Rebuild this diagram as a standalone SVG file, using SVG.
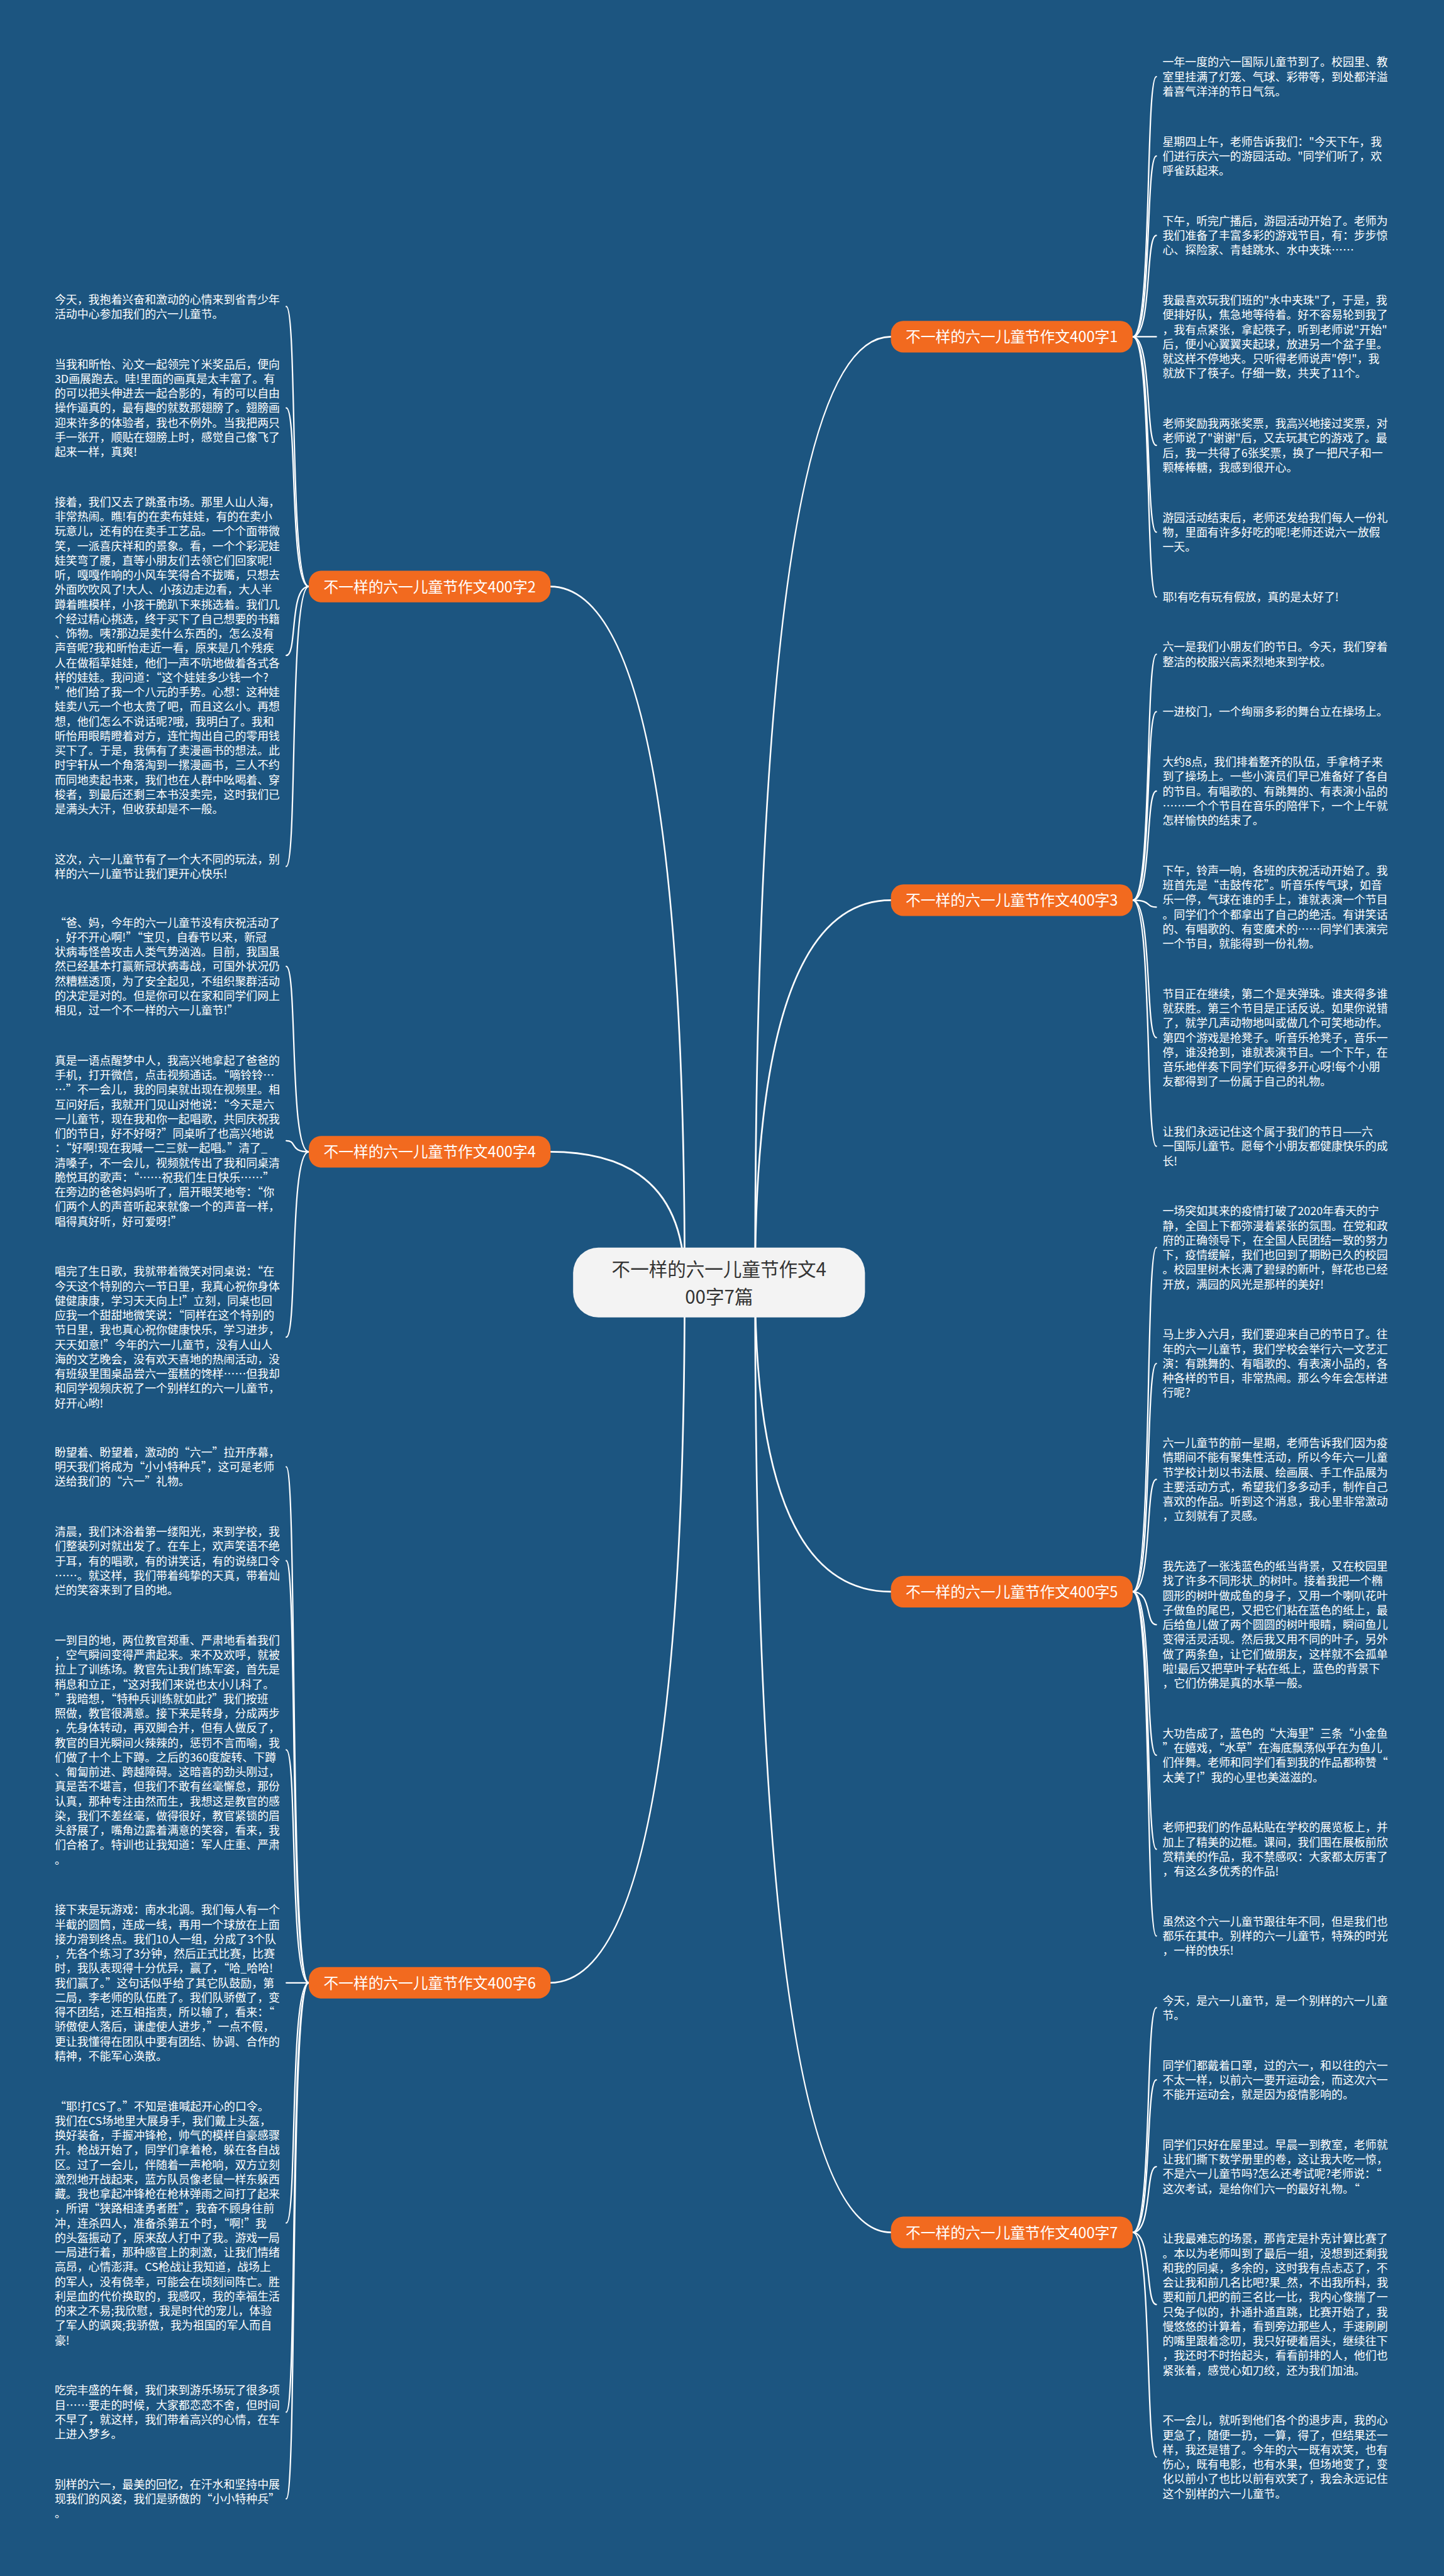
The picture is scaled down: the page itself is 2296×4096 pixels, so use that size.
<svg xmlns="http://www.w3.org/2000/svg" width="2296" height="4096" viewBox="0 0 2296 4096">
<style>
.t{font-family:"Noto Sans CJK SC","Noto Sans",sans-serif;font-size:20px;fill:#ffffff}
.bt{font-family:"Noto Sans CJK SC","Noto Sans",sans-serif;font-size:26.5px;fill:#ffffff;text-anchor:middle}
.ct{font-family:"Noto Sans CJK SC","Noto Sans",sans-serif;font-size:33px;fill:#333333;text-anchor:middle}
.br{fill:#f26a1f}
.cn{fill:#f3f3f3}
.lk{fill:none;stroke:#ffffff;stroke-width:2.5;stroke-linecap:round}
.lc{fill:none;stroke:#ffffff;stroke-width:3;stroke-linecap:round}
</style>
<rect width="2296" height="4096" fill="#1c5580"/>
<g transform="scale(0.896)">
<g id="connectors">
<path class="lc" d="M1340 2276 Q1340 597.6 1581 597.6"/>
<path class="lc" d="M1340 2276 Q1340 1597.6 1581 1597.6"/>
<path class="lc" d="M1340 2276 Q1340 2824.7 1581 2824.7"/>
<path class="lc" d="M1340 2276 Q1340 3961.7 1581 3961.7"/>
<path class="lc" d="M1215 2276 Q1215 1040.8 976 1040.8"/>
<path class="lc" d="M1215 2276 Q1215 2044 976 2044"/>
<path class="lc" d="M1215 2276 Q1215 3518.7 976 3518.7"/>
<path class="lk" d="M2010 597.6 C2045 597.6 2032 136 2052 136"/>
<path class="lk" d="M2010 597.6 C2045 597.6 2032 276.9 2052 276.9"/>
<path class="lk" d="M2010 597.6 C2045 597.6 2032 417.8 2052 417.8"/>
<path class="lk" d="M2010 597.6 C2045 597.6 2032 597.6 2052 597.6"/>
<path class="lk" d="M2010 597.6 C2045 597.6 2032 790.4 2052 790.4"/>
<path class="lk" d="M2010 597.6 C2045 597.6 2032 944.4 2052 944.4"/>
<path class="lk" d="M2010 597.6 C2045 597.6 2032 1059.3 2052 1059.3"/>
<path class="lk" d="M2010 1597.6 C2045 1597.6 2032 1161 2052 1161"/>
<path class="lk" d="M2010 1597.6 C2045 1597.6 2032 1263 2052 1263"/>
<path class="lk" d="M2010 1597.6 C2045 1597.6 2032 1403.9 2052 1403.9"/>
<path class="lk" d="M2010 1597.6 C2045 1597.6 2032 1609.7 2052 1609.7"/>
<path class="lk" d="M2010 1597.6 C2045 1597.6 2032 1841.4 2052 1841.4"/>
<path class="lk" d="M2010 1597.6 C2045 1597.6 2032 2034.2 2052 2034.2"/>
<path class="lk" d="M2010 2824.7 C2045 2824.7 2032 2213.9 2052 2213.9"/>
<path class="lk" d="M2010 2824.7 C2045 2824.7 2032 2419.7 2052 2419.7"/>
<path class="lk" d="M2010 2824.7 C2045 2824.7 2032 2625.5 2052 2625.5"/>
<path class="lk" d="M2010 2824.7 C2045 2824.7 2032 2883.1 2052 2883.1"/>
<path class="lk" d="M2010 2824.7 C2045 2824.7 2032 3114.9 2052 3114.9"/>
<path class="lk" d="M2010 2824.7 C2045 2824.7 2032 3281.7 2052 3281.7"/>
<path class="lk" d="M2010 2824.7 C2045 2824.7 2032 3435.6 2052 3435.6"/>
<path class="lk" d="M2010 3961.7 C2045 3961.7 2032 3563 2052 3563"/>
<path class="lk" d="M2010 3961.7 C2045 3961.7 2032 3691 2052 3691"/>
<path class="lk" d="M2010 3961.7 C2045 3961.7 2032 3844.9 2052 3844.9"/>
<path class="lk" d="M2010 3961.7 C2045 3961.7 2032 4089.6 2052 4089.6"/>
<path class="lk" d="M2010 3961.7 C2045 3961.7 2032 4360.3 2052 4360.3"/>
<path class="lk" d="M548 1040.8 C513 1040.8 528 544 508 544"/>
<path class="lk" d="M548 1040.8 C513 1040.8 528 723.9 508 723.9"/>
<path class="lk" d="M548 1040.8 C513 1040.8 528 1163.2 508 1163.2"/>
<path class="lk" d="M548 1040.8 C513 1040.8 528 1537.6 508 1537.6"/>
<path class="lk" d="M548 2044 C513 2044 528 1714.9 508 1714.9"/>
<path class="lk" d="M548 2044 C513 2044 528 2024.4 508 2024.4"/>
<path class="lk" d="M548 2044 C513 2044 528 2373 508 2373"/>
<path class="lk" d="M548 3518.7 C513 3518.7 528 2603 508 2603"/>
<path class="lk" d="M548 3518.7 C513 3518.7 528 2769.8 508 2769.8"/>
<path class="lk" d="M548 3518.7 C513 3518.7 528 3105.3 508 3105.3"/>
<path class="lk" d="M548 3518.7 C513 3518.7 528 3518.7 508 3518.7"/>
<path class="lk" d="M548 3518.7 C513 3518.7 528 3945 508 3945"/>
<path class="lk" d="M548 3518.7 C513 3518.7 528 4280.6 508 4280.6"/>
<path class="lk" d="M548 3518.7 C513 3518.7 528 4434.5 508 4434.5"/>
</g>
<g id="center">
<rect class="cn" x="1017" y="2214" width="518" height="124" rx="45"/>
<text class="ct" x="1276" y="2264">不一样的六一儿童节作文4</text>
<text class="ct" x="1276" y="2313.5">00字7篇</text>
</g>
<g id="branch1"><rect class="br" x="1581" y="569.6" width="429" height="56" rx="22"/><text class="bt" x="1795.5" y="607.6">不一样的六一儿童节作文400字1</text></g>
<g id="branch3"><rect class="br" x="1581" y="1569.6" width="429" height="56" rx="22"/><text class="bt" x="1795.5" y="1607.6">不一样的六一儿童节作文400字3</text></g>
<g id="branch5"><rect class="br" x="1581" y="2796.7" width="429" height="56" rx="22"/><text class="bt" x="1795.5" y="2834.7">不一样的六一儿童节作文400字5</text></g>
<g id="branch7"><rect class="br" x="1581" y="3933.7" width="429" height="56" rx="22"/><text class="bt" x="1795.5" y="3971.7">不一样的六一儿童节作文400字7</text></g>
<g id="branch2"><rect class="br" x="548" y="1012.8" width="429" height="56" rx="22"/><text class="bt" x="762.5" y="1050.8">不一样的六一儿童节作文400字2</text></g>
<g id="branch4"><rect class="br" x="548" y="2016" width="429" height="56" rx="22"/><text class="bt" x="762.5" y="2054">不一样的六一儿童节作文400字4</text></g>
<g id="branch6"><rect class="br" x="548" y="3490.7" width="429" height="56" rx="22"/><text class="bt" x="762.5" y="3528.7">不一样的六一儿童节作文400字6</text></g>

<g id="L2a"><text class="t" x="97" y="538.6"><tspan x="97">今天，我抱着兴奋和激动的心情来到省青少年</tspan><tspan x="97" dy="25.95">活动中心参加我们的六一儿童节。</tspan></text></g>
<g id="L2b"><text class="t" x="97" y="653.6"><tspan x="97">当我和昕怡、沁文一起领完丫米奖品后，便向</tspan><tspan x="97" dy="25.95">3D画展跑去。哇!里面的画真是太丰富了。有</tspan><tspan x="97" dy="25.95">的可以把头伸进去一起合影的，有的可以自由</tspan><tspan x="97" dy="25.95">操作逼真的，最有趣的就数那翅膀了。翅膀画</tspan><tspan x="97" dy="25.95">迎来许多的体验者，我也不例外。当我把两只</tspan><tspan x="97" dy="25.95">手一张开，顺贴在翅膀上时，感觉自己像飞了</tspan><tspan x="97" dy="25.95">起来一样，真爽!</tspan></text></g>
<g id="L2c"><text class="t" x="97" y="898.3"><tspan x="97">接着，我们又去了跳蚤市场。那里人山人海，</tspan><tspan x="97" dy="25.95">非常热闹。瞧!有的在卖布娃娃，有的在卖小</tspan><tspan x="97" dy="25.95">玩意儿，还有的在卖手工艺品。一个个面带微</tspan><tspan x="97" dy="25.95">笑，一派喜庆祥和的景象。看，一个个彩泥娃</tspan><tspan x="97" dy="25.95">娃笑弯了腰，直等小朋友们去领它们回家呢!</tspan><tspan x="97" dy="25.95">听，嘎嘎作响的小风车笑得合不拢嘴，只想去</tspan><tspan x="97" dy="25.95">外面吹吹风了!大人、小孩边走边看，大人半</tspan><tspan x="97" dy="25.95">蹲着瞧模样，小孩干脆趴下来挑选着。我们几</tspan><tspan x="97" dy="25.95">个经过精心挑选，终于买下了自己想要的书籍</tspan><tspan x="97" dy="25.95">、饰物。咦?那边是卖什么东西的，怎么没有</tspan><tspan x="97" dy="25.95">声音呢?我和昕怡走近一看，原来是几个残疾</tspan><tspan x="97" dy="25.95">人在做稻草娃娃，他们一声不吭地做着各式各</tspan><tspan x="97" dy="25.95">样的娃娃。我问道：“这个娃娃多少钱一个?</tspan><tspan x="97" dy="25.95">”他们给了我一个八元的手势。心想：这种娃</tspan><tspan x="97" dy="25.95">娃卖八元一个也太贵了吧，而且这么小。再想</tspan><tspan x="97" dy="25.95">想，他们怎么不说话呢?哦，我明白了。我和</tspan><tspan x="97" dy="25.95">昕怡用眼睛瞪着对方，连忙掏出自己的零用钱</tspan><tspan x="97" dy="25.95">买下了。于是，我俩有了卖漫画书的想法。此</tspan><tspan x="97" dy="25.95">时宇轩从一个角落淘到一摞漫画书，三人不约</tspan><tspan x="97" dy="25.95">而同地卖起书来，我们也在人群中吆喝着、穿</tspan><tspan x="97" dy="25.95">梭者，到最后还剩三本书没卖完，这时我们已</tspan><tspan x="97" dy="25.95">是满头大汗，但收获却是不一般。</tspan></text></g>
<g id="L2d"><text class="t" x="97" y="1532.2"><tspan x="97">这次，六一儿童节有了一个大不同的玩法，别</tspan><tspan x="97" dy="25.95">样的六一儿童节让我们更开心快乐!</tspan></text></g>

<g id="L4a"><text class="t" x="97" y="1644.6"><tspan x="97">“爸、妈，今年的六一儿童节没有庆祝活动了</tspan><tspan x="97" dy="25.95">，好不开心啊!”“宝贝，自春节以来，新冠</tspan><tspan x="97" dy="25.95">状病毒怪兽攻击人类气势汹汹。目前，我国虽</tspan><tspan x="97" dy="25.95">然已经基本打赢新冠状病毒战，可国外状况仍</tspan><tspan x="97" dy="25.95">然糟糕透顶，为了安全起见，不组织聚群活动</tspan><tspan x="97" dy="25.95">的决定是对的。但是你可以在家和同学们网上</tspan><tspan x="97" dy="25.95">相见，过一个不一样的六一儿童节!”</tspan></text></g>
<g id="L4b"><text class="t" x="97" y="1889.3"><tspan x="97">真是一语点醒梦中人，我高兴地拿起了爸爸的</tspan><tspan x="97" dy="25.95">手机，打开微信，点击视频通话。“嘀铃铃…</tspan><tspan x="97" dy="25.95">…”不一会儿，我的同桌就出现在视频里。相</tspan><tspan x="97" dy="25.95">互问好后，我就开门见山对他说：“今天是六</tspan><tspan x="97" dy="25.95">一儿童节，现在我和你一起唱歌，共同庆祝我</tspan><tspan x="97" dy="25.95">们的节日，好不好呀?”同桌听了也高兴地说</tspan><tspan x="97" dy="25.95">：“好啊!现在我喊一二三就一起唱。”清了_</tspan><tspan x="97" dy="25.95">清嗓子，不一会儿，视频就传出了我和同桌清</tspan><tspan x="97" dy="25.95">脆悦耳的歌声：“……祝我们生日快乐……”</tspan><tspan x="97" dy="25.95">在旁边的爸爸妈妈听了，眉开眼笑地夸：“你</tspan><tspan x="97" dy="25.95">们两个人的声音听起来就像一个的声音一样，</tspan><tspan x="97" dy="25.95">唱得真好听，好可爱呀!”</tspan></text></g>
<g id="L4c"><text class="t" x="97" y="2263.8"><tspan x="97">唱完了生日歌，我就带着微笑对同桌说：“在</tspan><tspan x="97" dy="25.95">今天这个特别的六一节日里，我真心祝你身体</tspan><tspan x="97" dy="25.95">健健康康，学习天天向上!”立刻，同桌也回</tspan><tspan x="97" dy="25.95">应我一个甜甜地微笑说：“同样在这个特别的</tspan><tspan x="97" dy="25.95">节日里，我也真心祝你健康快乐，学习进步，</tspan><tspan x="97" dy="25.95">天天如意!”今年的六一儿童节，没有人山人</tspan><tspan x="97" dy="25.95">海的文艺晚会，没有欢天喜地的热闹活动，没</tspan><tspan x="97" dy="25.95">有班级里围桌品尝六一蛋糕的馋样……但我却</tspan><tspan x="97" dy="25.95">和同学视频庆祝了一个别样红的六一儿童节，</tspan><tspan x="97" dy="25.95">好开心哟!</tspan></text></g>

<g id="L6a"><text class="t" x="97" y="2584.6"><tspan x="97">盼望着、盼望着，激动的“六一”拉开序幕，</tspan><tspan x="97" dy="25.95">明天我们将成为“小小特种兵”，这可是老师</tspan><tspan x="97" dy="25.95">送给我们的“六一”礼物。</tspan></text></g>
<g id="L6b"><text class="t" x="97" y="2725.5"><tspan x="97">清晨，我们沐浴着第一缕阳光，来到学校，我</tspan><tspan x="97" dy="25.95">们整装列对就出发了。在车上，欢声笑语不绝</tspan><tspan x="97" dy="25.95">于耳，有的唱歌，有的讲笑话，有的说绕口令</tspan><tspan x="97" dy="25.95">……。就这样，我们带着纯挚的天真，带着灿</tspan><tspan x="97" dy="25.95">烂的笑容来到了目的地。</tspan></text></g>
<g id="L6c"><text class="t" x="97" y="2918.3"><tspan x="97">一到目的地，两位教官郑重、严肃地看着我们</tspan><tspan x="97" dy="25.95">，空气瞬间变得严肃起来。来不及欢呼，就被</tspan><tspan x="97" dy="25.95">拉上了训练场。教官先让我们练军姿，首先是</tspan><tspan x="97" dy="25.95">稍息和立正，“这对我们来说也太小儿科了。</tspan><tspan x="97" dy="25.95">”我暗想，“特种兵训练就如此?”我们按班</tspan><tspan x="97" dy="25.95">照做，教官很满意。接下来是转身，分成两步</tspan><tspan x="97" dy="25.95">，先身体转动，再双脚合并，但有人做反了，</tspan><tspan x="97" dy="25.95">教官的目光瞬间火辣辣的，惩罚不言而喻，我</tspan><tspan x="97" dy="25.95">们做了十个上下蹲。之后的360度旋转、下蹲</tspan><tspan x="97" dy="25.95">、匍匐前进、跨越障碍。这暗喜的劲头刚过，</tspan><tspan x="97" dy="25.95">真是苦不堪言，但我们不敢有丝毫懈怠，那份</tspan><tspan x="97" dy="25.95">认真，那种专注由然而生，我想这是教官的感</tspan><tspan x="97" dy="25.95">染，我们不差丝毫，做得很好，教官紧锁的眉</tspan><tspan x="97" dy="25.95">头舒展了，嘴角边露着满意的笑容，看来，我</tspan><tspan x="97" dy="25.95">们合格了。特训也让我知道：军人庄重、严肃</tspan><tspan x="97" dy="25.95">。</tspan></text></g>
<g id="L6d"><text class="t" x="97" y="3396.5"><tspan x="97">接下来是玩游戏：南水北调。我们每人有一个</tspan><tspan x="97" dy="25.95">半截的圆筒，连成一线，再用一个球放在上面</tspan><tspan x="97" dy="25.95">接力滑到终点。我们10人一组，分成了3个队</tspan><tspan x="97" dy="25.95">，先各个练习了3分钟，然后正式比赛，比赛</tspan><tspan x="97" dy="25.95">时，我队表现得十分优异，赢了，“哈_哈哈!</tspan><tspan x="97" dy="25.95">我们赢了。”这句话似乎给了其它队鼓励，第</tspan><tspan x="97" dy="25.95">二局，李老师的队伍胜了。我们队骄傲了，变</tspan><tspan x="97" dy="25.95">得不团结，还互相指责，所以输了，看来：“</tspan><tspan x="97" dy="25.95">骄傲使人落后，谦虚使人进步，”一点不假，</tspan><tspan x="97" dy="25.95">更让我懂得在团队中要有团结、协调、合作的</tspan><tspan x="97" dy="25.95">精神，不能军心涣散。</tspan></text></g>
<g id="L6e"><text class="t" x="97" y="3745"><tspan x="97">“耶!打CS了。”不知是谁喊起开心的口令。</tspan><tspan x="97" dy="25.95">我们在CS场地里大展身手，我们戴上头盔，</tspan><tspan x="97" dy="25.95">换好装备，手握冲锋枪，帅气的模样自豪感骤</tspan><tspan x="97" dy="25.95">升。枪战开始了，同学们拿着枪，躲在各自战</tspan><tspan x="97" dy="25.95">区。过了一会儿，伴随着一声枪响，双方立刻</tspan><tspan x="97" dy="25.95">激烈地开战起来，蓝方队员像老鼠一样东躲西</tspan><tspan x="97" dy="25.95">藏。我也拿起冲锋枪在枪林弹雨之间打了起来</tspan><tspan x="97" dy="25.95">，所谓“狭路相逢勇者胜”，我奋不顾身往前</tspan><tspan x="97" dy="25.95">冲，连杀四人，准备杀第五个时，“啊!”我</tspan><tspan x="97" dy="25.95">的头盔振动了，原来敌人打中了我。游戏一局</tspan><tspan x="97" dy="25.95">一局进行着，那种感官上的刺激，让我们情绪</tspan><tspan x="97" dy="25.95">高昂，心情澎湃。CS枪战让我知道，战场上</tspan><tspan x="97" dy="25.95">的军人，没有侥幸，可能会在顷刻间阵亡。胜</tspan><tspan x="97" dy="25.95">利是血的代价换取的，我感叹，我的幸福生活</tspan><tspan x="97" dy="25.95">的来之不易;我欣慰，我是时代的宠儿，体验</tspan><tspan x="97" dy="25.95">了军人的飒爽;我骄傲，我为祖国的军人而自</tspan><tspan x="97" dy="25.95">豪!</tspan></text></g>
<g id="L6f"><text class="t" x="97" y="4249.2"><tspan x="97">吃完丰盛的午餐，我们来到游乐场玩了很多项</tspan><tspan x="97" dy="25.95">目……要走的时候，大家都恋恋不舍，但时间</tspan><tspan x="97" dy="25.95">不早了，就这样，我们带着高兴的心情，在车</tspan><tspan x="97" dy="25.95">上进入梦乡。</tspan></text></g>
<g id="L6g"><text class="t" x="97" y="4416.1"><tspan x="97">别样的六一，最美的回忆，在汗水和坚持中展</tspan><tspan x="97" dy="25.95">现我们的风姿，我们是骄傲的“小小特种兵”</tspan><tspan x="97" dy="25.95">。</tspan></text></g>

<g id="R1a"><text class="t" x="2063" y="117.6"><tspan x="2063">一年一度的六一国际儿童节到了。校园里、教</tspan><tspan x="2063" dy="25.95">室里挂满了灯笼、气球、彩带等，到处都洋溢</tspan><tspan x="2063" dy="25.95">着喜气洋洋的节日气氛。</tspan></text></g>
<g id="R1b"><text class="t" x="2063" y="258.5"><tspan x="2063">星期四上午，老师告诉我们："今天下午，我</tspan><tspan x="2063" dy="25.95">们进行庆六一的游园活动。"同学们听了，欢</tspan><tspan x="2063" dy="25.95">呼雀跃起来。</tspan></text></g>
<g id="R1c"><text class="t" x="2063" y="399.4"><tspan x="2063">下午，听完广播后，游园活动开始了。老师为</tspan><tspan x="2063" dy="25.95">我们准备了丰富多彩的游戏节目，有：步步惊</tspan><tspan x="2063" dy="25.95">心、探险家、青蛙跳水、水中夹珠……</tspan></text></g>
<g id="R1d"><text class="t" x="2063" y="540.3"><tspan x="2063">我最喜欢玩我们班的"水中夹珠"了，于是，我</tspan><tspan x="2063" dy="25.95">便排好队，焦急地等待着。好不容易轮到我了</tspan><tspan x="2063" dy="25.95">，我有点紧张，拿起筷子，听到老师说"开始"</tspan><tspan x="2063" dy="25.95">后，便小心翼翼夹起球，放进另一个盆子里。</tspan><tspan x="2063" dy="25.95">就这样不停地夹。只听得老师说声"停!"，我</tspan><tspan x="2063" dy="25.95">就放下了筷子。仔细一数，共夹了11个。</tspan></text></g>
<g id="R1e"><text class="t" x="2063" y="759.1"><tspan x="2063">老师奖励我两张奖票，我高兴地接过奖票，对</tspan><tspan x="2063" dy="25.95">老师说了"谢谢"后，又去玩其它的游戏了。最</tspan><tspan x="2063" dy="25.95">后，我一共得了6张奖票，换了一把尺子和一</tspan><tspan x="2063" dy="25.95">颗棒棒糖，我感到很开心。</tspan></text></g>
<g id="R1f"><text class="t" x="2063" y="926"><tspan x="2063">游园活动结束后，老师还发给我们每人一份礼</tspan><tspan x="2063" dy="25.95">物，里面有许多好吃的呢!老师还说六一放假</tspan><tspan x="2063" dy="25.95">一天。</tspan></text></g>
<g id="R1g"><text class="t" x="2063" y="1066.9">耶!有吃有玩有假放，真的是太好了!</text></g>

<g id="R3a"><text class="t" x="2063" y="1155.6"><tspan x="2063">六一是我们小朋友们的节日。今天，我们穿着</tspan><tspan x="2063" dy="25.95">整洁的校服兴高采烈地来到学校。</tspan></text></g>
<g id="R3b"><text class="t" x="2063" y="1270.6">一进校门，一个绚丽多彩的舞台立在操场上。</text></g>
<g id="R3c"><text class="t" x="2063" y="1359.6"><tspan x="2063">大约8点，我们排着整齐的队伍，手拿椅子来</tspan><tspan x="2063" dy="25.95">到了操场上。一些小演员们早已准备好了各自</tspan><tspan x="2063" dy="25.95">的节目。有唱歌的、有跳舞的、有表演小品的</tspan><tspan x="2063" dy="25.95">……一个个节目在音乐的陪伴下，一个上午就</tspan><tspan x="2063" dy="25.95">怎样愉快的结束了。</tspan></text></g>
<g id="R3d"><text class="t" x="2063" y="1552.4"><tspan x="2063">下午，铃声一响，各班的庆祝活动开始了。我</tspan><tspan x="2063" dy="25.95">班首先是“击鼓传花”。听音乐传气球，如音</tspan><tspan x="2063" dy="25.95">乐一停，气球在谁的手上，谁就表演一个节目</tspan><tspan x="2063" dy="25.95">。同学们个个都拿出了自己的绝活。有讲笑话</tspan><tspan x="2063" dy="25.95">的、有唱歌的、有变魔术的……同学们表演完</tspan><tspan x="2063" dy="25.95">一个节目，就能得到一份礼物。</tspan></text></g>
<g id="R3e"><text class="t" x="2063" y="1771.1"><tspan x="2063">节目正在继续，第二个是夹弹珠。谁夹得多谁</tspan><tspan x="2063" dy="25.95">就获胜。第三个节目是正话反说。如果你说错</tspan><tspan x="2063" dy="25.95">了，就学几声动物地叫或做几个可笑地动作。</tspan><tspan x="2063" dy="25.95">第四个游戏是抢凳子。听音乐抢凳子，音乐一</tspan><tspan x="2063" dy="25.95">停，谁没抢到，谁就表演节目。一个下午，在</tspan><tspan x="2063" dy="25.95">音乐地伴奏下同学们玩得多开心呀!每个小朋</tspan><tspan x="2063" dy="25.95">友都得到了一份属于自己的礼物。</tspan></text></g>
<g id="R3f"><text class="t" x="2063" y="2015.8"><tspan x="2063">让我们永远记住这个属于我们的节日——六</tspan><tspan x="2063" dy="25.95">一国际儿童节。愿每个小朋友都健康快乐的成</tspan><tspan x="2063" dy="25.95">长!</tspan></text></g>

<g id="R5a"><text class="t" x="2063" y="2156.6"><tspan x="2063">一场突如其来的疫情打破了2020年春天的宁</tspan><tspan x="2063" dy="25.95">静，全国上下都弥漫着紧张的氛围。在党和政</tspan><tspan x="2063" dy="25.95">府的正确领导下，在全国人民团结一致的努力</tspan><tspan x="2063" dy="25.95">下，疫情缓解，我们也回到了期盼已久的校园</tspan><tspan x="2063" dy="25.95">。校园里树木长满了碧绿的新叶，鲜花也已经</tspan><tspan x="2063" dy="25.95">开放，满园的风光是那样的美好!</tspan></text></g>
<g id="R5b"><text class="t" x="2063" y="2375.4"><tspan x="2063">马上步入六月，我们要迎来自己的节日了。往</tspan><tspan x="2063" dy="25.95">年的六一儿童节，我们学校会举行六一文艺汇</tspan><tspan x="2063" dy="25.95">演：有跳舞的、有唱歌的、有表演小品的，各</tspan><tspan x="2063" dy="25.95">种各样的节目，非常热闹。那么今年会怎样进</tspan><tspan x="2063" dy="25.95">行呢?</tspan></text></g>
<g id="R5c"><text class="t" x="2063" y="2568.2"><tspan x="2063">六一儿童节的前一星期，老师告诉我们因为疫</tspan><tspan x="2063" dy="25.95">情期间不能有聚集性活动，所以今年六一儿童</tspan><tspan x="2063" dy="25.95">节学校计划以书法展、绘画展、手工作品展为</tspan><tspan x="2063" dy="25.95">主要活动方式，希望我们多多动手，制作自己</tspan><tspan x="2063" dy="25.95">喜欢的作品。听到这个消息，我心里非常激动</tspan><tspan x="2063" dy="25.95">，立刻就有了灵感。</tspan></text></g>
<g id="R5d"><text class="t" x="2063" y="2786.9"><tspan x="2063">我先选了一张浅蓝色的纸当背景，又在校园里</tspan><tspan x="2063" dy="25.95">找了许多不同形状_的树叶。接着我把一个椭</tspan><tspan x="2063" dy="25.95">圆形的树叶做成鱼的身子，又用一个喇叭花叶</tspan><tspan x="2063" dy="25.95">子做鱼的尾巴，又把它们粘在蓝色的纸上，最</tspan><tspan x="2063" dy="25.95">后给鱼儿做了两个圆圆的树叶眼睛，瞬间鱼儿</tspan><tspan x="2063" dy="25.95">变得活灵活现。然后我又用不同的叶子，另外</tspan><tspan x="2063" dy="25.95">做了两条鱼，让它们做朋友，这样就不会孤单</tspan><tspan x="2063" dy="25.95">啦!最后又把草叶子粘在纸上，蓝色的背景下</tspan><tspan x="2063" dy="25.95">，它们仿佛是真的水草一般。</tspan></text></g>
<g id="R5e"><text class="t" x="2063" y="3083.5"><tspan x="2063">大功告成了，蓝色的“大海里”三条“小金鱼</tspan><tspan x="2063" dy="25.95">”在嬉戏，“水草”在海底飘荡似乎在为鱼儿</tspan><tspan x="2063" dy="25.95">们伴舞。老师和同学们看到我的作品都称赞“</tspan><tspan x="2063" dy="25.95">太美了!”我的心里也美滋滋的。</tspan></text></g>
<g id="R5f"><text class="t" x="2063" y="3250.4"><tspan x="2063">老师把我们的作品粘贴在学校的展览板上，并</tspan><tspan x="2063" dy="25.95">加上了精美的边框。课间，我们围在展板前欣</tspan><tspan x="2063" dy="25.95">赏精美的作品，我不禁感叹：大家都太厉害了</tspan><tspan x="2063" dy="25.95">，有这么多优秀的作品!</tspan></text></g>
<g id="R5g"><text class="t" x="2063" y="3417.2"><tspan x="2063">虽然这个六一儿童节跟往年不同，但是我们也</tspan><tspan x="2063" dy="25.95">都乐在其中。别样的六一儿童节，特殊的时光</tspan><tspan x="2063" dy="25.95">，一样的快乐!</tspan></text></g>

<g id="R7a"><text class="t" x="2063" y="3557.6"><tspan x="2063">今天，是六一儿童节，是一个别样的六一儿童</tspan><tspan x="2063" dy="25.95">节。</tspan></text></g>
<g id="R7b"><text class="t" x="2063" y="3672.6"><tspan x="2063">同学们都戴着口罩，过的六一，和以往的六一</tspan><tspan x="2063" dy="25.95">不太一样，以前六一要开运动会，而这次六一</tspan><tspan x="2063" dy="25.95">不能开运动会，就是因为疫情影响的。</tspan></text></g>
<g id="R7c"><text class="t" x="2063" y="3813.5"><tspan x="2063">同学们只好在屋里过。早晨一到教室，老师就</tspan><tspan x="2063" dy="25.95">让我们撕下数学册里的卷，这让我大吃一惊，</tspan><tspan x="2063" dy="25.95">不是六一儿童节吗?怎么还考试呢?老师说：“</tspan><tspan x="2063" dy="25.95">这次考试，是给你们六一的最好礼物。“</tspan></text></g>
<g id="R7d"><text class="t" x="2063" y="3980.4"><tspan x="2063">让我最难忘的场景，那肯定是扑克计算比赛了</tspan><tspan x="2063" dy="25.95">。本以为老师叫到了最后一组，没想到还剩我</tspan><tspan x="2063" dy="25.95">和我的同桌，多余的，这时我有点忐忑了，不</tspan><tspan x="2063" dy="25.95">会让我和前几名比吧?果_然，不出我所料，我</tspan><tspan x="2063" dy="25.95">要和前几把的前三名比一比，我内心像揣了一</tspan><tspan x="2063" dy="25.95">只兔子似的，扑通扑通直跳，比赛开始了，我</tspan><tspan x="2063" dy="25.95">慢悠悠的计算着，看到旁边那些人，手速刷刷</tspan><tspan x="2063" dy="25.95">的嘴里跟着念叨，我只好硬着眉头，继续往下</tspan><tspan x="2063" dy="25.95">，我还时不时抬起头，看看前排的人，他们也</tspan><tspan x="2063" dy="25.95">紧张着，感觉心如刀绞，还为我们加油。</tspan></text></g>
<g id="R7e"><text class="t" x="2063" y="4303"><tspan x="2063">不一会儿，就听到他们各个的退步声，我的心</tspan><tspan x="2063" dy="25.95">更急了，随便一扔，一算，得了，但结果还一</tspan><tspan x="2063" dy="25.95">样，我还是错了。今年的六一既有欢笑，也有</tspan><tspan x="2063" dy="25.95">伤心，既有电影，也有水果，但场地变了，变</tspan><tspan x="2063" dy="25.95">化以前小了也比以前有欢笑了，我会永远记住</tspan><tspan x="2063" dy="25.95">这个别样的六一儿童节。</tspan></text></g>
</g>
</svg>
